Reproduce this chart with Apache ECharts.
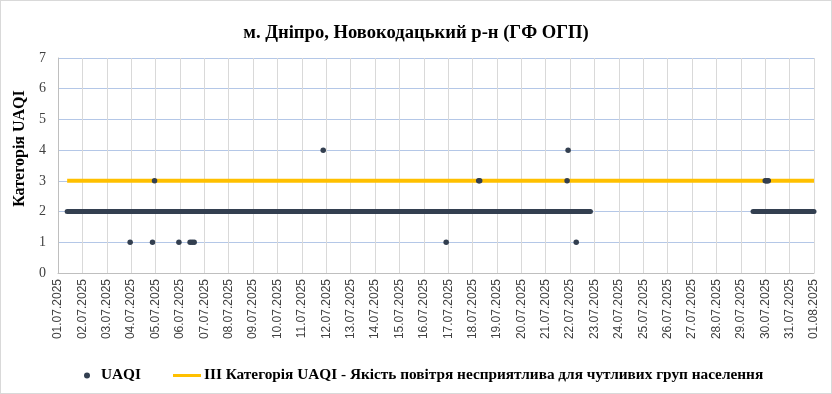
<!DOCTYPE html>
<html><head><meta charset="utf-8">
<script src="https://cdn.jsdelivr.net/npm/echarts@6/dist/echarts.min.js"></script>
<style>html,body{margin:0;padding:0;background:#fff}#c{width:832px;height:394px;box-sizing:border-box;border:1px solid #d9d9d9}</style>
</head><body><div id="c"></div><script>
const chartTitle = 'м. Дніпро, Новокодацький р-н (ГФ ОГП)';
const yAxisName = 'Категорія UAQI';
const dateLabels = ['01.07.2025','02.07.2025','03.07.2025','04.07.2025','05.07.2025','06.07.2025','07.07.2025','08.07.2025','09.07.2025','10.07.2025','11.07.2025','12.07.2025','13.07.2025','14.07.2025','15.07.2025','16.07.2025','17.07.2025','18.07.2025','19.07.2025','20.07.2025','21.07.2025','22.07.2025','23.07.2025','24.07.2025','25.07.2025','26.07.2025','27.07.2025','28.07.2025','29.07.2025','30.07.2025','31.07.2025','01.08.2025'];
const yTicks = ['0','1','2','3','4','5','6','7'];
const uaqiName = 'UAQI';
// continuous hourly runs at a constant category: [start, end, category]
const uaqiRuns = [['01.07 09:00','22.07 20:00',2],['29.07 12:00','01.08 00:00',2]];
// hours whose category differs from the run level
const uaqiPoints = [
  ['03.07 23:00',1],['04.07 21:00',1],['04.07 23:00',3],['05.07 23:00',1],
  ['06.07 10:00',1],['06.07 12:00',1],['06.07 14:00',1],
  ['11.07 21:00',4],['16.07 22:00',1],['18.07 06:00',3],['18.07 07:00',3],
  ['21.07 21:00',3],['21.07 22:00',4],['22.07 06:00',1],
  ['30.07 00:00',3],['30.07 01:00',3],['30.07 02:00',3],['30.07 03:00',3]
];
const thresholdName = 'III Категорія UAQI - Якість повітря несприятлива для чутливих груп населення';
const threshold = [['01.07 09:00',3],['01.08 00:00',3]];

function dayPos(s){
  const [d,t] = s.split(' ');
  const [dd,mm] = d.split('.').map(Number);
  const [hh,mi] = t.split(':').map(Number);
  return (mm === 8 ? 31 : 0) + dd - 1 + (hh + mi/60)/24;
}
const NAVY = '#333F50', YEL = '#FFC000';
const serif = '"Liberation Serif","Times New Roman",serif';
const sans = '"Liberation Sans",Arial,sans-serif';

const series = [{
  name: thresholdName, type: 'line', showSymbol: false, symbol: 'none',
  data: threshold.map(p => [dayPos(p[0]), p[1]]),
  lineStyle: {color: YEL, width: 4}, itemStyle: {color: YEL}, z: 2, silent: true
}];
uaqiRuns.forEach(r => series.push({
  name: uaqiName, type: 'line', showSymbol: false, symbol: 'none',
  data: [[dayPos(r[0]), r[2]], [dayPos(r[1]), r[2]]],
  lineStyle: {color: NAVY, width: 5, cap: 'round'}, itemStyle: {color: NAVY}, z: 3, silent: true
}));
series.push({
  name: uaqiName, type: 'scatter', symbol: 'circle', symbolSize: 5.5,
  data: uaqiPoints.map(p => [dayPos(p[0]), p[1]]),
  itemStyle: {color: NAVY, opacity: 1}, z: 4, silent: true
});

const chart = echarts.init(document.getElementById('c'));
chart.setOption({
  animation: false,
  backgroundColor: '#fff',
  title: {text: chartTitle, left: 'center', top: 18,
    textStyle: {fontFamily: serif, fontWeight: 'bold', fontSize: 18.6, color: '#000'}},
  grid: {left: 57, right: 17, top: 57, bottom: 120, containLabel: false},
  legend: [{
    data: [{name: uaqiName, icon: 'circle'}], left: 83, top: 367, padding: 0,
    itemWidth: 6, itemHeight: 6, itemGap: 10,
    textStyle: {fontFamily: serif, fontWeight: 'bold', fontSize: 15.3, color: '#000', padding: [0,0,0,6]}
  },{
    data: [{name: thresholdName, icon: 'rect'}], left: 172, top: 367, padding: 0,
    itemWidth: 28, itemHeight: 3,
    textStyle: {fontFamily: serif, fontWeight: 'bold', fontSize: 15.3, color: '#000', padding: [0,0,0,-2]}
  }],
  xAxis: {
    type: 'value', min: 0, max: 31, interval: 1,
    axisLine: {show: true, lineStyle: {color: '#BFBFBF'}},
    axisTick: {show: false},
    splitLine: {show: true, lineStyle: {color: '#D9D9D9', width: 1}},
    axisLabel: {rotate: 90, margin: 6, formatter: v => dateLabels[Math.round(v)],
      fontFamily: sans, fontSize: 12, color: '#404040'}
  },
  yAxis: {
    type: 'value', min: 0, max: 7, interval: 1,
    name: yAxisName, nameLocation: 'middle', nameGap: 29,
    nameTextStyle: {fontFamily: serif, fontWeight: 'bold', fontSize: 16, color: '#000', padding: [0,0,0,34]},
    axisLine: {show: true, lineStyle: {color: '#BFBFBF'}},
    axisTick: {show: false},
    splitLine: {show: true, lineStyle: {color: '#B4C7E7', width: 1}},
    axisLabel: {margin: 12, formatter: v => yTicks[Math.round(v)],
      fontFamily: serif, fontSize: 14, color: '#404040'}
  },
  series: series
});
</script></body></html>
